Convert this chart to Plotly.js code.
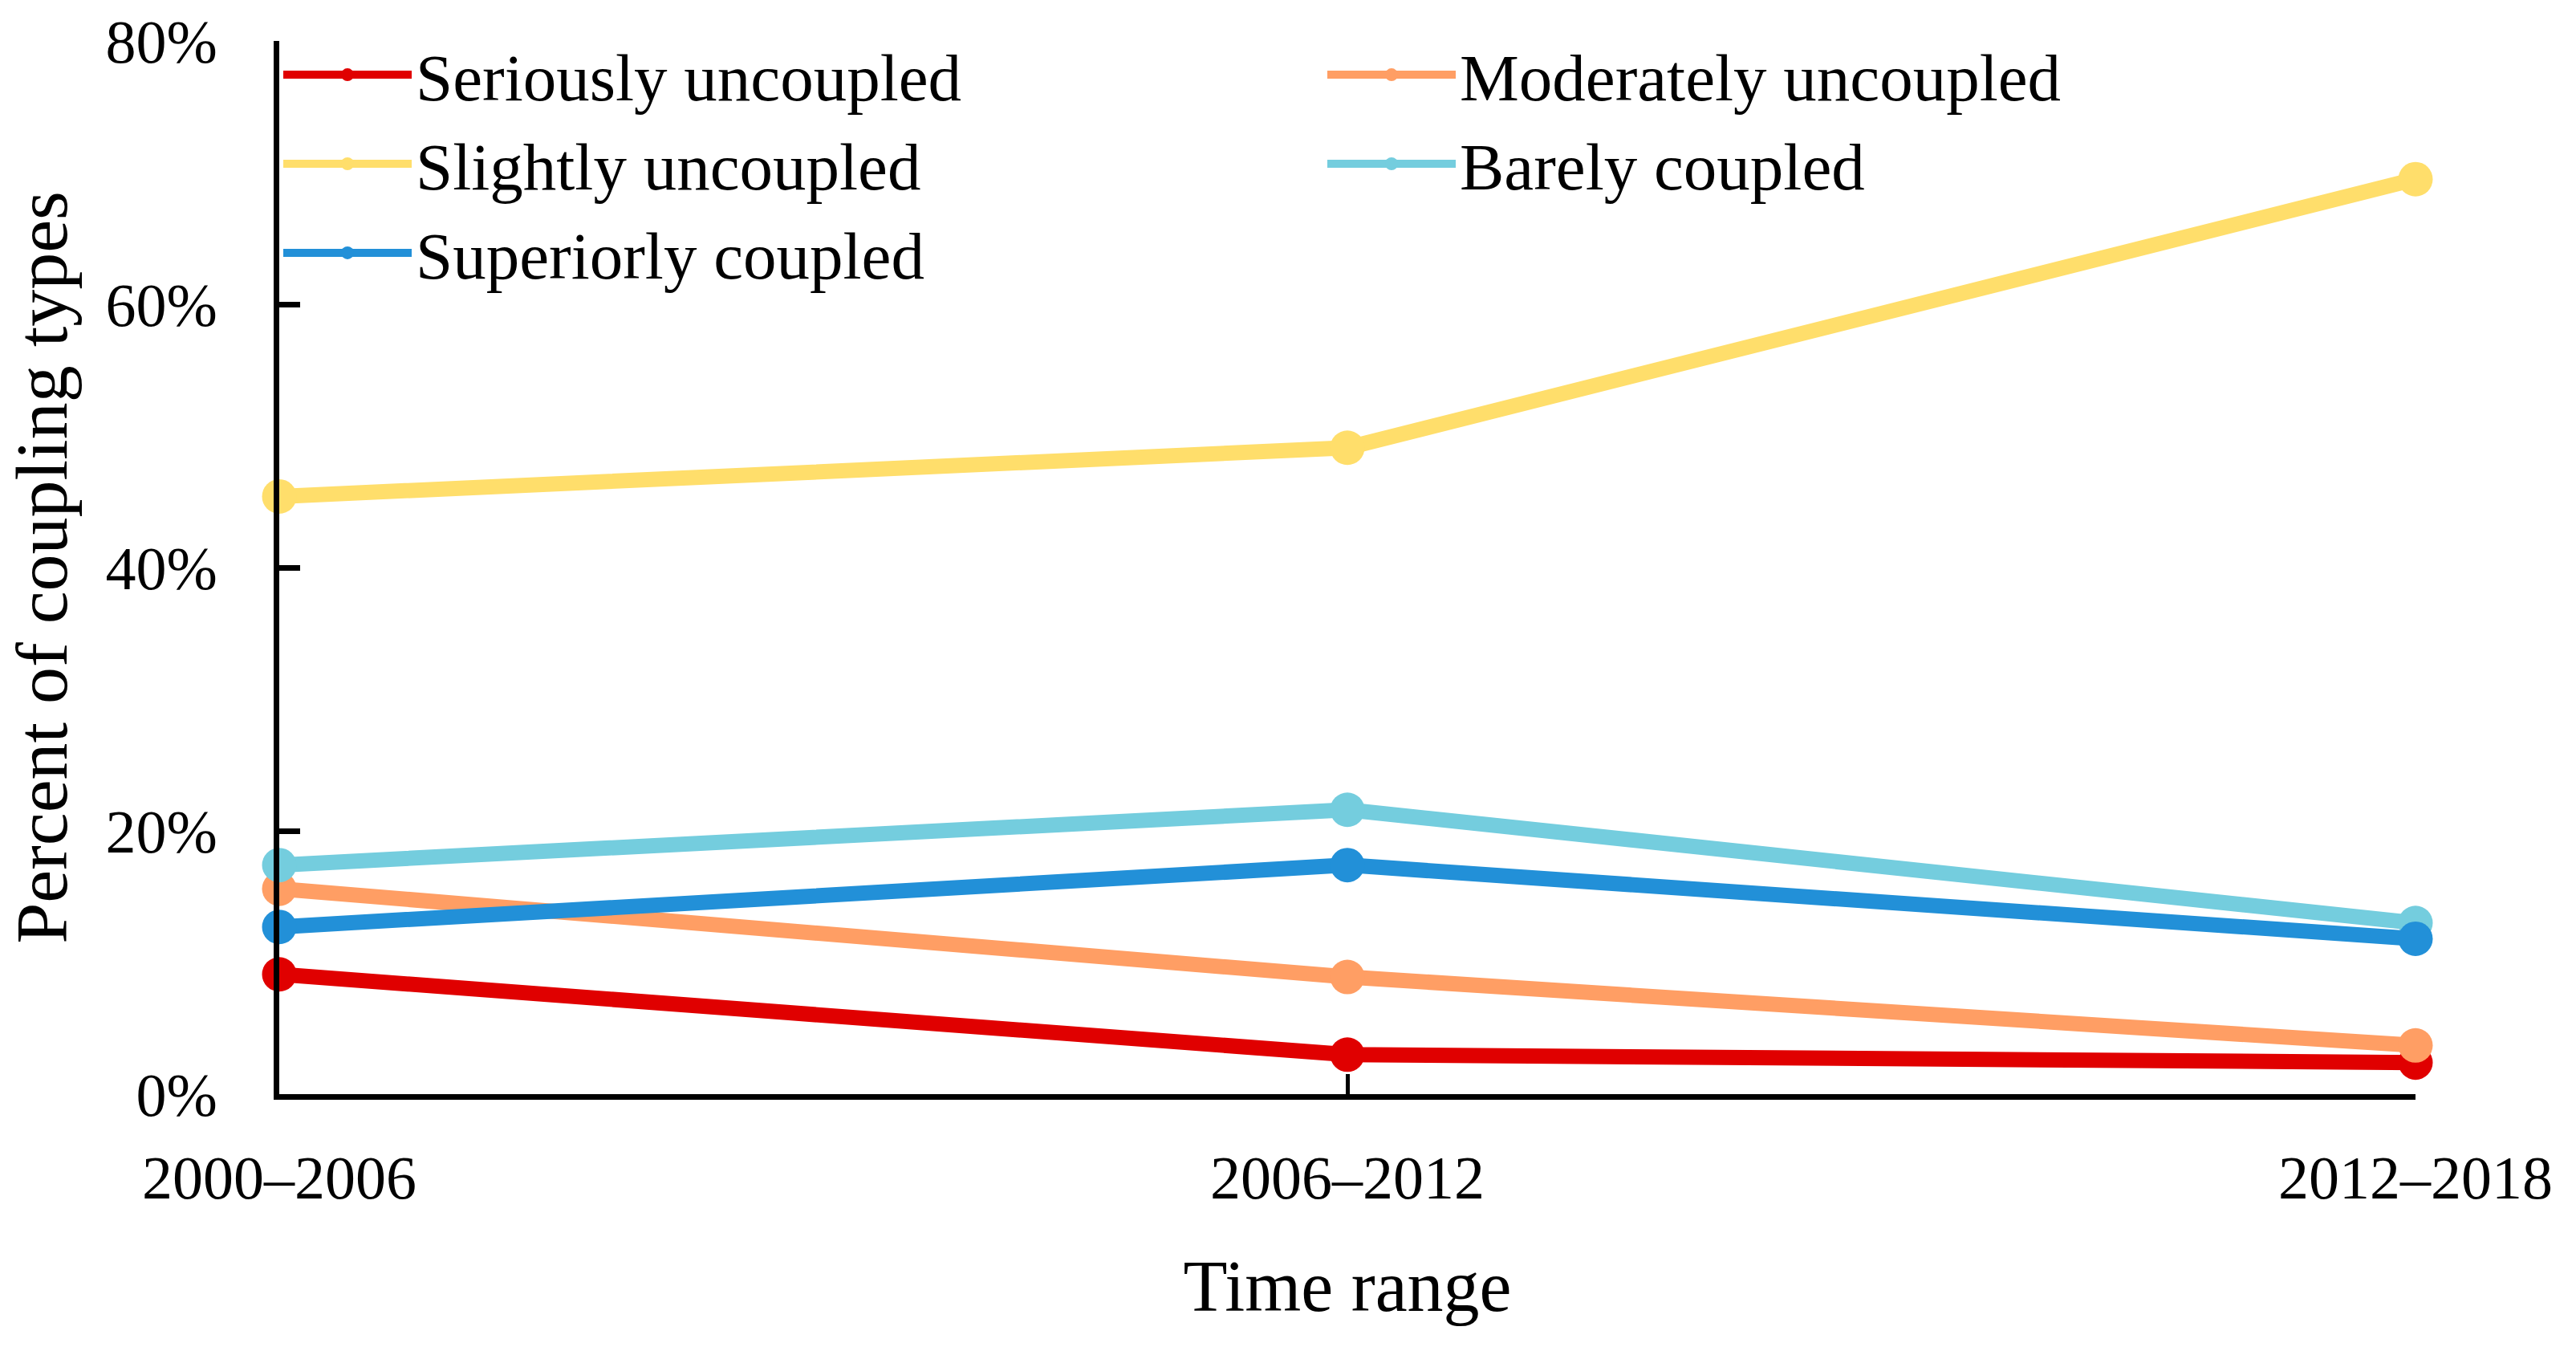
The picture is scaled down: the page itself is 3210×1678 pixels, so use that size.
<!DOCTYPE html>
<html>
<head>
<meta charset="utf-8">
<script src="https://cdn.plot.ly/plotly-3.0.1.min.js"></script>
<style>html,body{margin:0;padding:0;background:#fff;}#chart{width:3210px;height:1678px;}</style>
</head>
<body>
<div id="chart"></div>
<script>
const timeRanges = ["2000–2006", "2006–2012", "2012–2018"];
const seriesNames = ["Seriously uncoupled", "Moderately uncoupled", "Slightly uncoupled", "Barely coupled", "Superiorly coupled"];
const seriouslyUncoupled = [9.1, 3.0, 2.4];
const moderatelyUncoupled = [15.6, 8.9, 3.7];
const slightlyUncoupled = [45.4, 49.1, 69.5];
const barelyCoupled = [17.4, 21.6, 13.0];
const superiorlyCoupled = [12.7, 17.4, 11.8];
const seriesColors = ["#E00000", "#FF9E64", "#FFDE6B", "#74CDDE", "#2290D8"];
const yTickValues = [0, 20, 40, 60, 80];
const yTickLabels = ["0%", "20%", "40%", "60%", "80%"];

const seriesValues = [seriouslyUncoupled, moderatelyUncoupled, slightlyUncoupled, barelyCoupled, superiorlyCoupled];
const FONT = "'Palatino Linotype', 'Book Antiqua', Palatino, 'Liberation Serif', serif";

const traces = seriesValues.map((vals, i) => ({
  type: "scatter",
  mode: "lines+markers",
  name: seriesNames[i],
  x: timeRanges,
  y: vals,
  cliponaxis: false,
  line: { color: seriesColors[i], width: 19 },
  marker: { color: seriesColors[i], size: 43 }
}));

const layout = {
  width: 3210,
  height: 1678,
  paper_bgcolor: "#ffffff",
  plot_bgcolor: "#ffffff",
  font: { family: FONT, color: "#000000", size: 76 },
  margin: { l: 348, r: 200, t: 51, b: 315, autoexpand: false },
  showlegend: true,
  legend: {
    orientation: "h",
    x: 0, xanchor: "left",
    y: 1.014, yanchor: "top",
    entrywidth: 1126,
    itemwidth: 160,
    font: { family: FONT, size: 83, color: "#000000" },
    bgcolor: "rgba(0,0,0,0)",
    traceorder: "normal"
  },
  xaxis: {
    type: "category",
    range: [0, 2],
    showgrid: false,
    zeroline: false,
    showline: true,
    linecolor: "#000000",
    linewidth: 7,
    ticks: "inside",
    ticklen: 25,
    tickwidth: 5,
    tickcolor: "#000000",
    ticklabelstandoff: 32,
    tickfont: { family: FONT, size: 76 },
    title: { text: "Time range", font: { family: FONT, size: 90 }, standoff: 64 }
  },
  yaxis: {
    range: [0, 80],
    tickmode: "array",
    tickvals: yTickValues,
    ticktext: yTickLabels,
    showgrid: false,
    zeroline: false,
    showline: true,
    linecolor: "#000000",
    linewidth: 7,
    ticks: "inside",
    ticklen: 26,
    tickwidth: 7,
    tickcolor: "#000000",
    ticklabelstandoff: 55,
    tickfont: { family: FONT, size: 76 },
    title: { text: "Percent of coupling types", font: { family: FONT, size: 92 }, standoff: 20 }
  }
};

Plotly.newPlot("chart", traces, layout, { displayModeBar: false, staticPlot: true });
</script>
</body>
</html>
